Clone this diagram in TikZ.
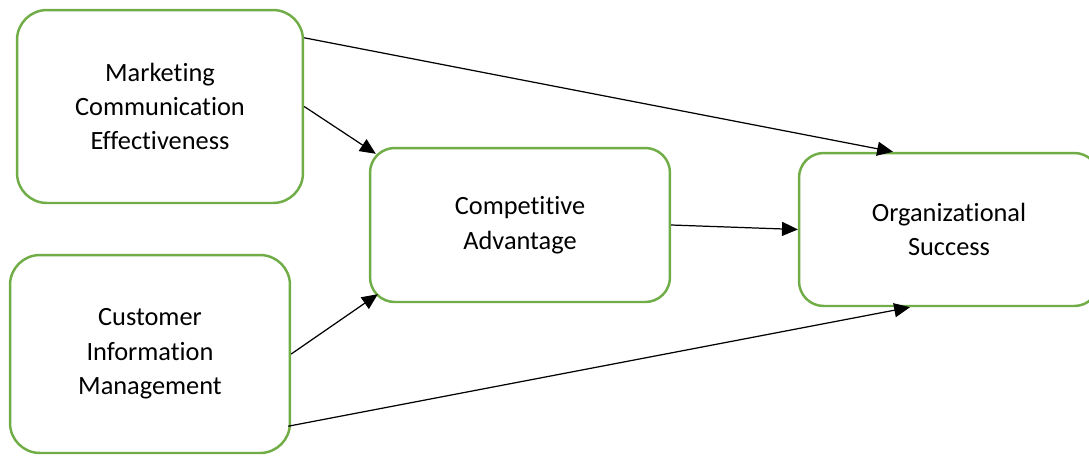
\documentclass[tikz,border=0pt]{standalone}
\usepackage{fontspec}
\setmainfont{Carlito}[Ligatures=NoCommon]
\usepackage{xcolor}
\definecolor{ogreen}{RGB}{112,173,71}
\usepackage{tikz}
\usetikzlibrary{calc,positioning,arrows.meta}
\tikzset{
    factor/.style={
    rectangle,rounded corners=17pt,draw=ogreen,line width=1.4pt,fill=white,
    align=center,font=\fontsize{15}{19.6}\selectfont
    },
  line/.style={draw, line width=0.7pt, -{Triangle[length=9pt,width=8pt]}}
}
\begin{document}
\begin{tikzpicture}[x=0.02cm,y=-0.02cm]
    \useasboundingbox (0,0) rectangle (1089,457);

    \node[factor,minimum width=5.72cm,minimum height=3.86cm] (mce) at (160,106.5) {Marketing\\ Communication\\ Effectiveness};
    \node[factor,minimum width=5.6cm,minimum height=3.96cm] (cim) at (150,354) {Customer\\ Information\\ Management};
    \node[factor,minimum width=6cm,minimum height=3.08cm,rounded corners=14pt] (cadv) at (520,225) {Competitive\\ Advantage};
    \node[factor,minimum width=6cm,minimum height=3.06cm,rounded corners=14pt] (osucc) at (949,229.5) {Organizational\\ Success};

    \begin{scope} [every path/.style=line]
      \path ($(mce.north east)+(0,29)$) -- ($(osucc.north)+(-56,0)$);
      \path (mce.east) -- ($(cadv.north west)+(7,7)$);
      \path (cadv.east) -- (osucc.west);
      \path (cim.east) -- ($(cadv.south west)+(9,-9)$);
      \path ($(cim.south east)+(-3,-28)$) -- ($(osucc.south)+(-39,0)$);
    \end{scope}
  \end{tikzpicture}
\end{document}
